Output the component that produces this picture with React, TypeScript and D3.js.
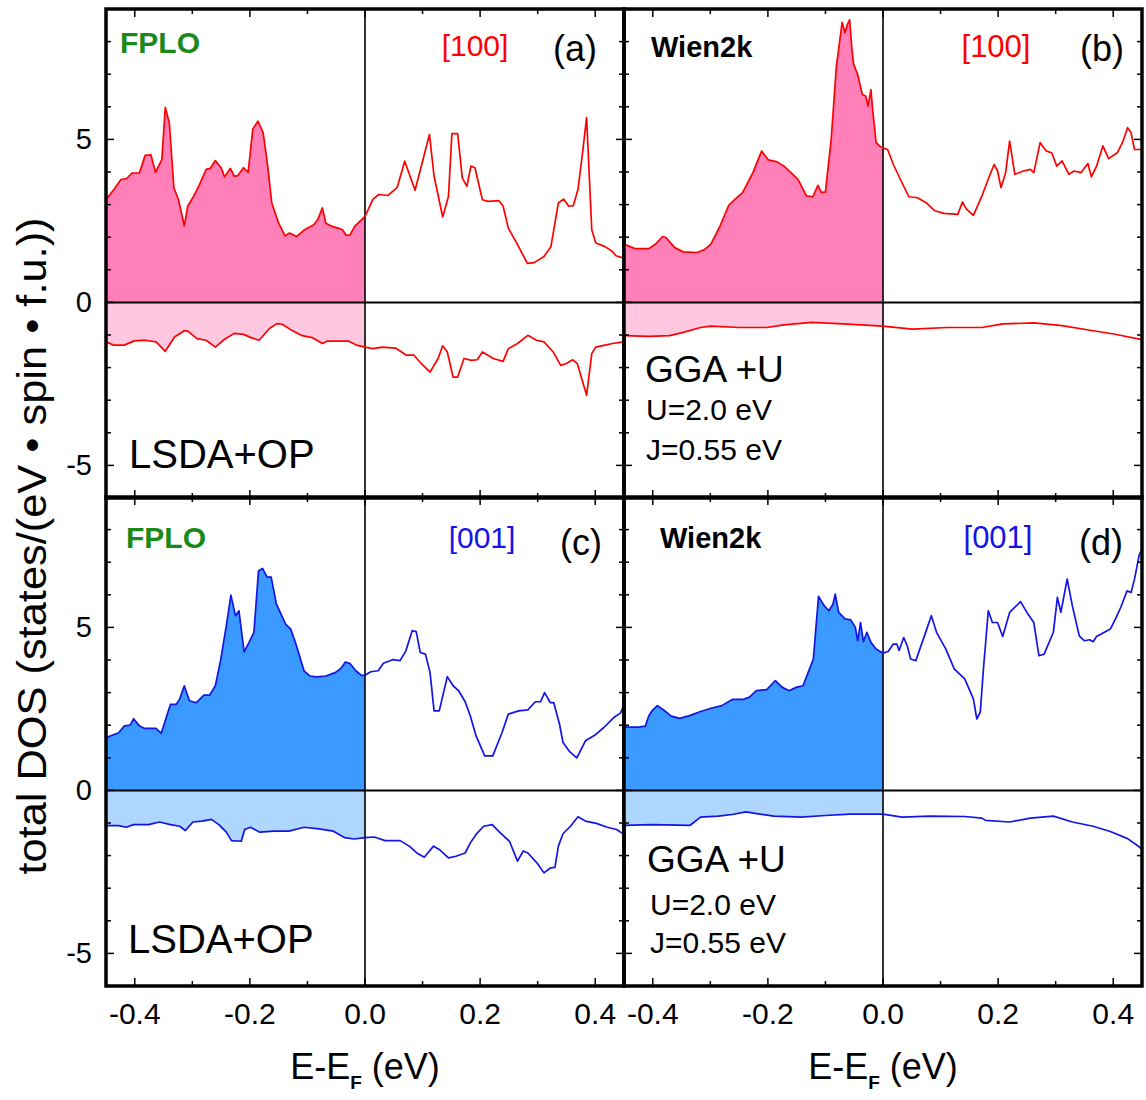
import React from "react";
import * as d3 from "d3";

// [E - E_F (eV), DOS]
const aUp = [
  [-0.45, 3.15], [-0.437, 3.45], [-0.424, 3.77], [-0.414, 3.8], [-0.405, 3.97], [-0.392, 3.97],
  [-0.382, 4.51], [-0.372, 4.53], [-0.364, 3.99], [-0.353, 4.38], [-0.347, 5.98], [-0.34, 5.51],
  [-0.332, 3.51], [-0.324, 3.15], [-0.314, 2.35], [-0.308, 2.95], [-0.298, 3.25], [-0.289, 3.56],
  [-0.276, 4.08], [-0.269, 4.11], [-0.26, 4.35], [-0.25, 4.13], [-0.244, 3.85], [-0.234, 4.11],
  [-0.227, 3.87], [-0.221, 3.89], [-0.211, 4.13], [-0.203, 3.99], [-0.195, 5.31], [-0.186, 5.56],
  [-0.177, 5.21], [-0.169, 4.18], [-0.162, 3.05], [-0.15, 2.43], [-0.139, 2.04], [-0.131, 2.13],
  [-0.119, 2.02], [-0.105, 2.23], [-0.089, 2.38], [-0.082, 2.54], [-0.074, 2.9], [-0.068, 2.43],
  [-0.057, 2.33], [-0.047, 2.28], [-0.039, 2.23], [-0.033, 2.06], [-0.026, 2.07], [-0.018, 2.33],
  [0, 2.64], [0.014, 3.17], [0.024, 3.31], [0.04, 3.28], [0.056, 3.53], [0.069, 4.33], [0.087, 3.44],
  [0.112, 5.15], [0.12, 3.87], [0.135, 2.62], [0.145, 3.25], [0.151, 5.18], [0.161, 5.18],
  [0.169, 3.82], [0.177, 3.56], [0.184, 4.18], [0.191, 4.13], [0.204, 3.15], [0.214, 3.1],
  [0.233, 3.12], [0.24, 2.95], [0.249, 2.28], [0.265, 1.77], [0.282, 1.2], [0.294, 1.22],
  [0.311, 1.41], [0.323, 1.71], [0.336, 3.05], [0.345, 3.17], [0.354, 2.95], [0.362, 2.97],
  [0.37, 3.46], [0.378, 4.59], [0.385, 5.67], [0.394, 2.23], [0.401, 1.82], [0.417, 1.71],
  [0.43, 1.56], [0.436, 1.43], [0.45, 1.36],
];
const aDown = [
  [-0.45, -1.21], [-0.437, -1.31], [-0.418, -1.31], [-0.401, -1.18], [-0.382, -1.16], [-0.363, -1.21],
  [-0.347, -1.5], [-0.331, -1.06], [-0.314, -0.87], [-0.308, -0.88], [-0.292, -1.11], [-0.276, -1.16],
  [-0.26, -1.37], [-0.244, -1.13], [-0.227, -0.95], [-0.211, -0.98], [-0.198, -1.08], [-0.184, -1.16],
  [-0.166, -0.8], [-0.153, -0.65], [-0.144, -0.67], [-0.128, -0.85], [-0.111, -1.01], [-0.092, -1.08],
  [-0.074, -1.26], [-0.066, -1.19], [-0.028, -1.19], [-0.015, -1.31], [0, -1.37],
  [0.014, -1.42], [0.03, -1.37], [0.053, -1.4], [0.072, -1.62], [0.085, -1.62], [0.098, -1.88],
  [0.113, -2.14], [0.127, -1.72], [0.135, -1.33], [0.143, -1.52], [0.153, -2.29], [0.161, -2.29],
  [0.172, -1.72], [0.185, -1.78], [0.195, -1.76], [0.204, -1.52], [0.223, -1.72], [0.24, -1.81],
  [0.249, -1.42], [0.265, -1.26], [0.283, -1.01], [0.298, -1.16], [0.311, -1.21], [0.327, -1.52],
  [0.34, -1.93], [0.349, -1.88], [0.361, -1.76], [0.369, -1.88], [0.385, -2.85], [0.394, -1.57],
  [0.401, -1.37], [0.417, -1.31], [0.43, -1.26], [0.45, -1.21],
];
const bUp = [
  [-0.45, 1.79], [-0.431, 1.65], [-0.407, 1.65], [-0.395, 1.79], [-0.383, 2.02], [-0.377, 1.99],
  [-0.362, 1.68], [-0.347, 1.55], [-0.323, 1.53], [-0.311, 1.61], [-0.299, 1.79], [-0.283, 2.35],
  [-0.268, 2.98], [-0.256, 3.18], [-0.244, 3.37], [-0.226, 3.98], [-0.211, 4.64], [-0.199, 4.37],
  [-0.184, 4.31], [-0.172, 4.18], [-0.16, 3.98], [-0.148, 3.78], [-0.133, 3.27], [-0.122, 3.24],
  [-0.113, 3.59], [-0.107, 3.37], [-0.1, 3.39], [-0.09, 5.0], [-0.081, 7.24], [-0.071, 8.59],
  [-0.066, 8.27], [-0.062, 8.52], [-0.058, 8.67], [-0.054, 7.76], [-0.051, 7.3], [-0.044, 6.99],
  [-0.036, 6.38], [-0.03, 6.33], [-0.026, 6.02], [-0.021, 6.53], [-0.018, 5.92], [-0.012, 4.9],
  [-0.006, 4.8], [0, 4.74], [0.008, 4.69], [0.018, 4.23], [0.033, 3.67], [0.045, 3.24], [0.06, 3.21],
  [0.075, 3.06], [0.09, 2.81], [0.106, 2.73], [0.13, 2.7], [0.138, 3.08], [0.145, 2.86], [0.157, 2.67],
  [0.172, 3.27], [0.184, 3.83], [0.193, 4.23], [0.199, 4.03], [0.205, 3.52], [0.213, 3.98],
  [0.22, 4.95], [0.229, 3.93], [0.244, 4.03], [0.256, 4.08], [0.262, 3.98], [0.273, 4.9],
  [0.284, 4.64], [0.293, 4.59], [0.302, 4.18], [0.311, 4.34], [0.323, 3.93], [0.332, 4.03],
  [0.344, 3.98], [0.356, 4.26], [0.362, 3.85], [0.371, 4.18], [0.382, 4.8], [0.392, 4.41],
  [0.407, 4.59], [0.416, 4.9], [0.425, 5.36], [0.431, 5.2], [0.437, 4.69], [0.45, 4.69],
];
const bDown = [
  [-0.45, -1.02], [-0.407, -1.04], [-0.371, -1.02], [-0.347, -0.92], [-0.317, -0.77], [-0.299, -0.73],
  [-0.25, -0.77], [-0.202, -0.77], [-0.172, -0.69], [-0.124, -0.61], [-0.069, -0.66], [0, -0.73],
  [0.051, -0.82], [0.112, -0.77], [0.172, -0.77], [0.208, -0.66], [0.262, -0.63], [0.311, -0.71],
  [0.365, -0.87], [0.401, -0.97], [0.45, -1.14],
];
const cUp = [
  [-0.45, 1.62], [-0.428, 1.77], [-0.418, 1.98], [-0.408, 2.0], [-0.402, 2.2], [-0.392, 1.98],
  [-0.383, 1.9], [-0.363, 1.9], [-0.354, 1.75], [-0.338, 2.64], [-0.328, 2.64], [-0.322, 2.8],
  [-0.314, 3.21], [-0.305, 2.75], [-0.293, 2.69], [-0.28, 2.92], [-0.27, 2.92], [-0.26, 3.21],
  [-0.251, 3.98], [-0.241, 5.05], [-0.233, 5.99], [-0.225, 5.36], [-0.219, 5.51], [-0.21, 4.25],
  [-0.203, 4.49], [-0.193, 4.85], [-0.185, 6.74], [-0.178, 6.81], [-0.17, 6.54], [-0.163, 6.54],
  [-0.154, 5.72], [-0.138, 5.1], [-0.129, 4.95], [-0.119, 4.44], [-0.106, 3.67], [-0.096, 3.51],
  [-0.084, 3.48], [-0.068, 3.51], [-0.051, 3.62], [-0.042, 3.74], [-0.034, 3.94], [-0.026, 3.89],
  [-0.016, 3.67], [-0.006, 3.53], [0, 3.53], [0.01, 3.64], [0.023, 3.67], [0.032, 3.9], [0.048, 4.01],
  [0.061, 3.98], [0.071, 4.28], [0.082, 4.9], [0.089, 4.87], [0.096, 4.23], [0.105, 4.18],
  [0.113, 3.62], [0.12, 2.44], [0.129, 2.44], [0.143, 3.49], [0.153, 3.21], [0.163, 3.05],
  [0.174, 2.72], [0.183, 2.28], [0.193, 1.67], [0.208, 1.06], [0.222, 1.06], [0.238, 1.77],
  [0.249, 2.34], [0.267, 2.44], [0.283, 2.47], [0.296, 2.72], [0.305, 2.72], [0.312, 3.0],
  [0.322, 2.69], [0.328, 2.69], [0.338, 2.03], [0.344, 1.47], [0.356, 1.18], [0.368, 1.0],
  [0.383, 1.52], [0.399, 1.69], [0.415, 1.93], [0.434, 2.26], [0.444, 2.37], [0.45, 2.64],
];
const cDown = [
  [-0.45, -1.08], [-0.428, -1.08], [-0.415, -1.13], [-0.402, -1.05], [-0.376, -1.05], [-0.357, -0.97],
  [-0.338, -1.05], [-0.322, -1.1], [-0.312, -1.23], [-0.299, -0.97], [-0.283, -0.94], [-0.267, -0.89],
  [-0.254, -1.05], [-0.241, -1.28], [-0.232, -1.54], [-0.215, -1.56], [-0.209, -1.2], [-0.199, -1.13],
  [-0.183, -1.28], [-0.158, -1.25], [-0.132, -1.25], [-0.106, -1.13], [-0.08, -1.18], [-0.055, -1.25],
  [-0.035, -1.45], [-0.019, -1.49], [0, -1.45], [0.016, -1.43], [0.035, -1.54], [0.061, -1.54],
  [0.077, -1.71], [0.09, -1.92], [0.103, -2.05], [0.119, -1.71], [0.129, -1.81], [0.145, -2.07],
  [0.158, -2.02], [0.174, -1.92], [0.183, -1.61], [0.193, -1.35], [0.206, -1.1], [0.221, -1.05],
  [0.235, -1.3], [0.251, -1.56], [0.265, -2.17], [0.275, -1.86], [0.283, -1.92], [0.299, -2.23],
  [0.311, -2.53], [0.322, -2.38], [0.33, -2.36], [0.336, -1.71], [0.344, -1.33], [0.357, -1.1],
  [0.37, -0.81], [0.383, -0.94], [0.402, -1.01], [0.421, -1.13], [0.437, -1.2], [0.45, -1.35],
];
const dUp = [
  [-0.45, 1.94], [-0.425, 1.94], [-0.413, 1.97], [-0.407, 2.28], [-0.401, 2.45], [-0.392, 2.6],
  [-0.38, 2.45], [-0.368, 2.28], [-0.353, 2.21], [-0.335, 2.3], [-0.317, 2.42], [-0.299, 2.52],
  [-0.28, 2.6], [-0.262, 2.79], [-0.244, 2.79], [-0.232, 2.86], [-0.22, 3.06], [-0.202, 3.09],
  [-0.187, 3.37], [-0.175, 3.16], [-0.163, 3.06], [-0.151, 3.16], [-0.139, 3.21], [-0.13, 3.62],
  [-0.121, 4.03], [-0.112, 5.95], [-0.102, 5.66], [-0.094, 5.51], [-0.087, 5.71], [-0.083, 6.02],
  [-0.077, 5.46], [-0.066, 5.26], [-0.056, 5.23], [-0.048, 5.0], [-0.044, 4.59], [-0.039, 5.15],
  [-0.034, 4.56], [-0.028, 4.85], [-0.021, 4.54], [-0.012, 4.34], [0, 4.21], [0.009, 4.26],
  [0.018, 4.49], [0.024, 4.49], [0.028, 4.29], [0.036, 4.69], [0.042, 4.44], [0.048, 4.03],
  [0.057, 3.98], [0.072, 4.74], [0.084, 5.36], [0.093, 4.85], [0.109, 4.34], [0.124, 3.72],
  [0.142, 3.42], [0.157, 2.81], [0.163, 2.19], [0.169, 2.4], [0.175, 3.83], [0.183, 5.51],
  [0.19, 5.15], [0.199, 5.15], [0.208, 4.72], [0.22, 5.46], [0.239, 5.79], [0.25, 5.46],
  [0.262, 5.15], [0.271, 4.13], [0.28, 4.18], [0.296, 4.85], [0.303, 5.92], [0.309, 5.46],
  [0.32, 6.48], [0.329, 5.66], [0.341, 4.74], [0.35, 4.59], [0.359, 4.62], [0.365, 4.56],
  [0.371, 4.72], [0.395, 4.95], [0.404, 5.26], [0.413, 5.61], [0.424, 6.12], [0.431, 6.07],
  [0.437, 6.48], [0.445, 7.21], [0.45, 7.4],
];
const dDown = [
  [-0.45, -1.07], [-0.401, -1.05], [-0.335, -1.07], [-0.317, -0.82], [-0.286, -0.79], [-0.262, -0.74],
  [-0.238, -0.66], [-0.22, -0.71], [-0.19, -0.79], [-0.142, -0.82], [-0.1, -0.77], [-0.057, -0.73],
  [0, -0.73], [0.033, -0.82], [0.081, -0.79], [0.142, -0.8], [0.172, -0.85], [0.178, -0.92],
  [0.22, -0.97], [0.256, -0.85], [0.296, -0.79], [0.329, -0.97], [0.365, -1.1], [0.395, -1.26],
  [0.425, -1.48], [0.445, -1.73], [0.45, -1.8],
];

const xTickLabels = [-0.4, -0.2, 0, 0.2, 0.4];
const yTickLabels = [-5, 0, 5];
const xDomain = [-0.45, 0.45];
const yDomain = [-6, 9];

const FONT = "'Liberation Sans', Arial, sans-serif";
const RED = "#ff0000";
const BLUE = "#1414e6";
const PINK = "#ff80b8";
const LIGHT_PINK = "#ffc8e0";
const SKY = "#3a9aff";
const LIGHT_SKY = "#aed6ff";
const GREEN = "#198a19";

const colX = [106, 624];
const rowY = [9, 497];
const PW = 518;
const PH = 489;

const Panel = ({ id, left, top, up, down, line, upFill, downFill, yLabels, xLabels }) => {
  const x = d3.scaleLinear().domain(xDomain).range([left, left + PW]);
  const y = d3.scaleLinear().domain(yDomain).range([top + PH, top]);
  const area = d3
    .area()
    .x((d) => x(d[0]))
    .y0(y(0))
    .y1((d) => y(d[1]));
  const path = d3
    .line()
    .x((d) => x(d[0]))
    .y((d) => y(d[1]));
  // occupied states (E <= E_F) are shaded
  const occ = (d) => d[0] <= 0;
  const xMinor = d3.range(-4, 5).map((i) => i / 10);
  const yMinor = d3.range(-5, 9);

  return (
    <g>
      <defs>
        <clipPath id={`clip-${id}`}>
          <rect x={left} y={top} width={PW} height={PH} />
        </clipPath>
      </defs>
      <g clipPath={`url(#clip-${id})`}>
        <path d={area(up.filter(occ))} fill={upFill} />
        <path d={area(down.filter(occ))} fill={downFill} />
        <line x1={left} x2={left + PW} y1={y(0)} y2={y(0)} stroke="#000" strokeWidth={2} />
        <line x1={x(0)} x2={x(0)} y1={top} y2={top + PH} stroke="#000" strokeWidth={1.6} />
        <path d={path(up)} fill="none" stroke={line} strokeWidth={1.7} strokeLinejoin="round" />
        <path d={path(down)} fill="none" stroke={line} strokeWidth={1.7} strokeLinejoin="round" />
      </g>
      {xMinor.map((t, i) => {
        const len = Math.abs(Math.round(t * 10)) % 2 === 0 ? 8 : 5;
        return (
          <g key={`xt${i}`} stroke="#000" strokeWidth={1.5}>
            <line x1={x(t)} x2={x(t)} y1={top} y2={top + len} />
            <line x1={x(t)} x2={x(t)} y1={top + PH} y2={top + PH - len} />
          </g>
        );
      })}
      {yMinor.map((t) => {
        const len = t % 5 === 0 ? 8 : 5;
        return (
          <g key={`yt${t}`} stroke="#000" strokeWidth={1.5}>
            <line x1={left} x2={left + len} y1={y(t)} y2={y(t)} />
            <line x1={left + PW} x2={left + PW - len} y1={y(t)} y2={y(t)} />
          </g>
        );
      })}
      <rect x={left} y={top} width={PW} height={PH} fill="none" stroke="#000" strokeWidth={3.5} />
      {yLabels &&
        yTickLabels.map((t) => (
          <text
            key={`yl${t}`}
            x={left - 14}
            y={y(t) + 10}
            textAnchor="end"
            fontSize={29}
            fontFamily={FONT}
          >
            {String(t)}
          </text>
        ))}
      {xLabels &&
        xTickLabels.map((t) => (
          <text
            key={`xl${t}`}
            x={x(t)}
            y={top + PH + 38}
            textAnchor="middle"
            fontSize={30}
            fontFamily={FONT}
          >
            {t.toFixed(1)}
          </text>
        ))}
    </g>
  );
};

const App = () => {
  return (
    <svg
      width={1146}
      height={1100}
      style={{ position: "absolute", left: 0, top: 0, background: "#fff" }}
    >
      <rect width={1146} height={1100} fill="#fff" />
      <Panel id="a" left={colX[0]} top={rowY[0]} up={aUp} down={aDown} line={RED} upFill={PINK} downFill={LIGHT_PINK} yLabels />
      <Panel id="b" left={colX[1]} top={rowY[0]} up={bUp} down={bDown} line={RED} upFill={PINK} downFill={LIGHT_PINK} />
      <Panel id="c" left={colX[0]} top={rowY[1]} up={cUp} down={cDown} line={BLUE} upFill={SKY} downFill={LIGHT_SKY} yLabels xLabels />
      <Panel id="d" left={colX[1]} top={rowY[1]} up={dUp} down={dDown} line={BLUE} upFill={SKY} downFill={LIGHT_SKY} xLabels />

      <g fontFamily={FONT}>
        {/* panel (a) */}
        <text x={120} y={53} fontSize={30} fontWeight="bold" fill={GREEN}>FPLO</text>
        <text x={475} y={56} fontSize={30} fill={RED} textAnchor="middle">[100]</text>
        <text x={575} y={61} fontSize={36} textAnchor="middle">(a)</text>
        <text x={129} y={468} fontSize={40}>LSDA+OP</text>
        {/* panel (b) */}
        <text x={651} y={57} fontSize={29} fontWeight="bold">Wien2k</text>
        <text x={996} y={57} fontSize={31} fill={RED} textAnchor="middle">[100]</text>
        <text x={1102} y={61} fontSize={36} textAnchor="middle">(b)</text>
        <text x={645} y={382} fontSize={37}>GGA +U</text>
        <text x={646} y={420} fontSize={30}>U=2.0 eV</text>
        <text x={646} y={460} fontSize={30}>J=0.55 eV</text>
        {/* panel (c) */}
        <text x={126} y={548} fontSize={30} fontWeight="bold" fill={GREEN}>FPLO</text>
        <text x={482} y={548} fontSize={30} fill={BLUE} textAnchor="middle">[001]</text>
        <text x={581} y={555} fontSize={36} textAnchor="middle">(c)</text>
        <text x={128} y={953} fontSize={40}>LSDA+OP</text>
        {/* panel (d) */}
        <text x={660} y={548} fontSize={29} fontWeight="bold">Wien2k</text>
        <text x={998} y={548} fontSize={31} fill={BLUE} textAnchor="middle">[001]</text>
        <text x={1101} y={555} fontSize={36} textAnchor="middle">(d)</text>
        <text x={647} y={872} fontSize={37}>GGA +U</text>
        <text x={650} y={915} fontSize={30}>U=2.0 eV</text>
        <text x={650} y={953} fontSize={30}>J=0.55 eV</text>

        {/* axis titles */}
        <text
          transform="translate(46,546) rotate(-90)"
          textAnchor="middle"
          fontSize={40}
          textLength={657}
          lengthAdjust="spacingAndGlyphs"
        >
          total DOS (states/(eV • spin • f.u.))
        </text>
        {[365, 883].map((cx) => (
          <text key={cx} x={cx} y={1079} textAnchor="middle" fontSize={36}>
            E-E
            <tspan fontSize={19} fontWeight="bold" dy={10}>F</tspan>
            <tspan dy={-10}> (eV)</tspan>
          </text>
        ))}
      </g>
    </svg>
  );
};

export default App;
